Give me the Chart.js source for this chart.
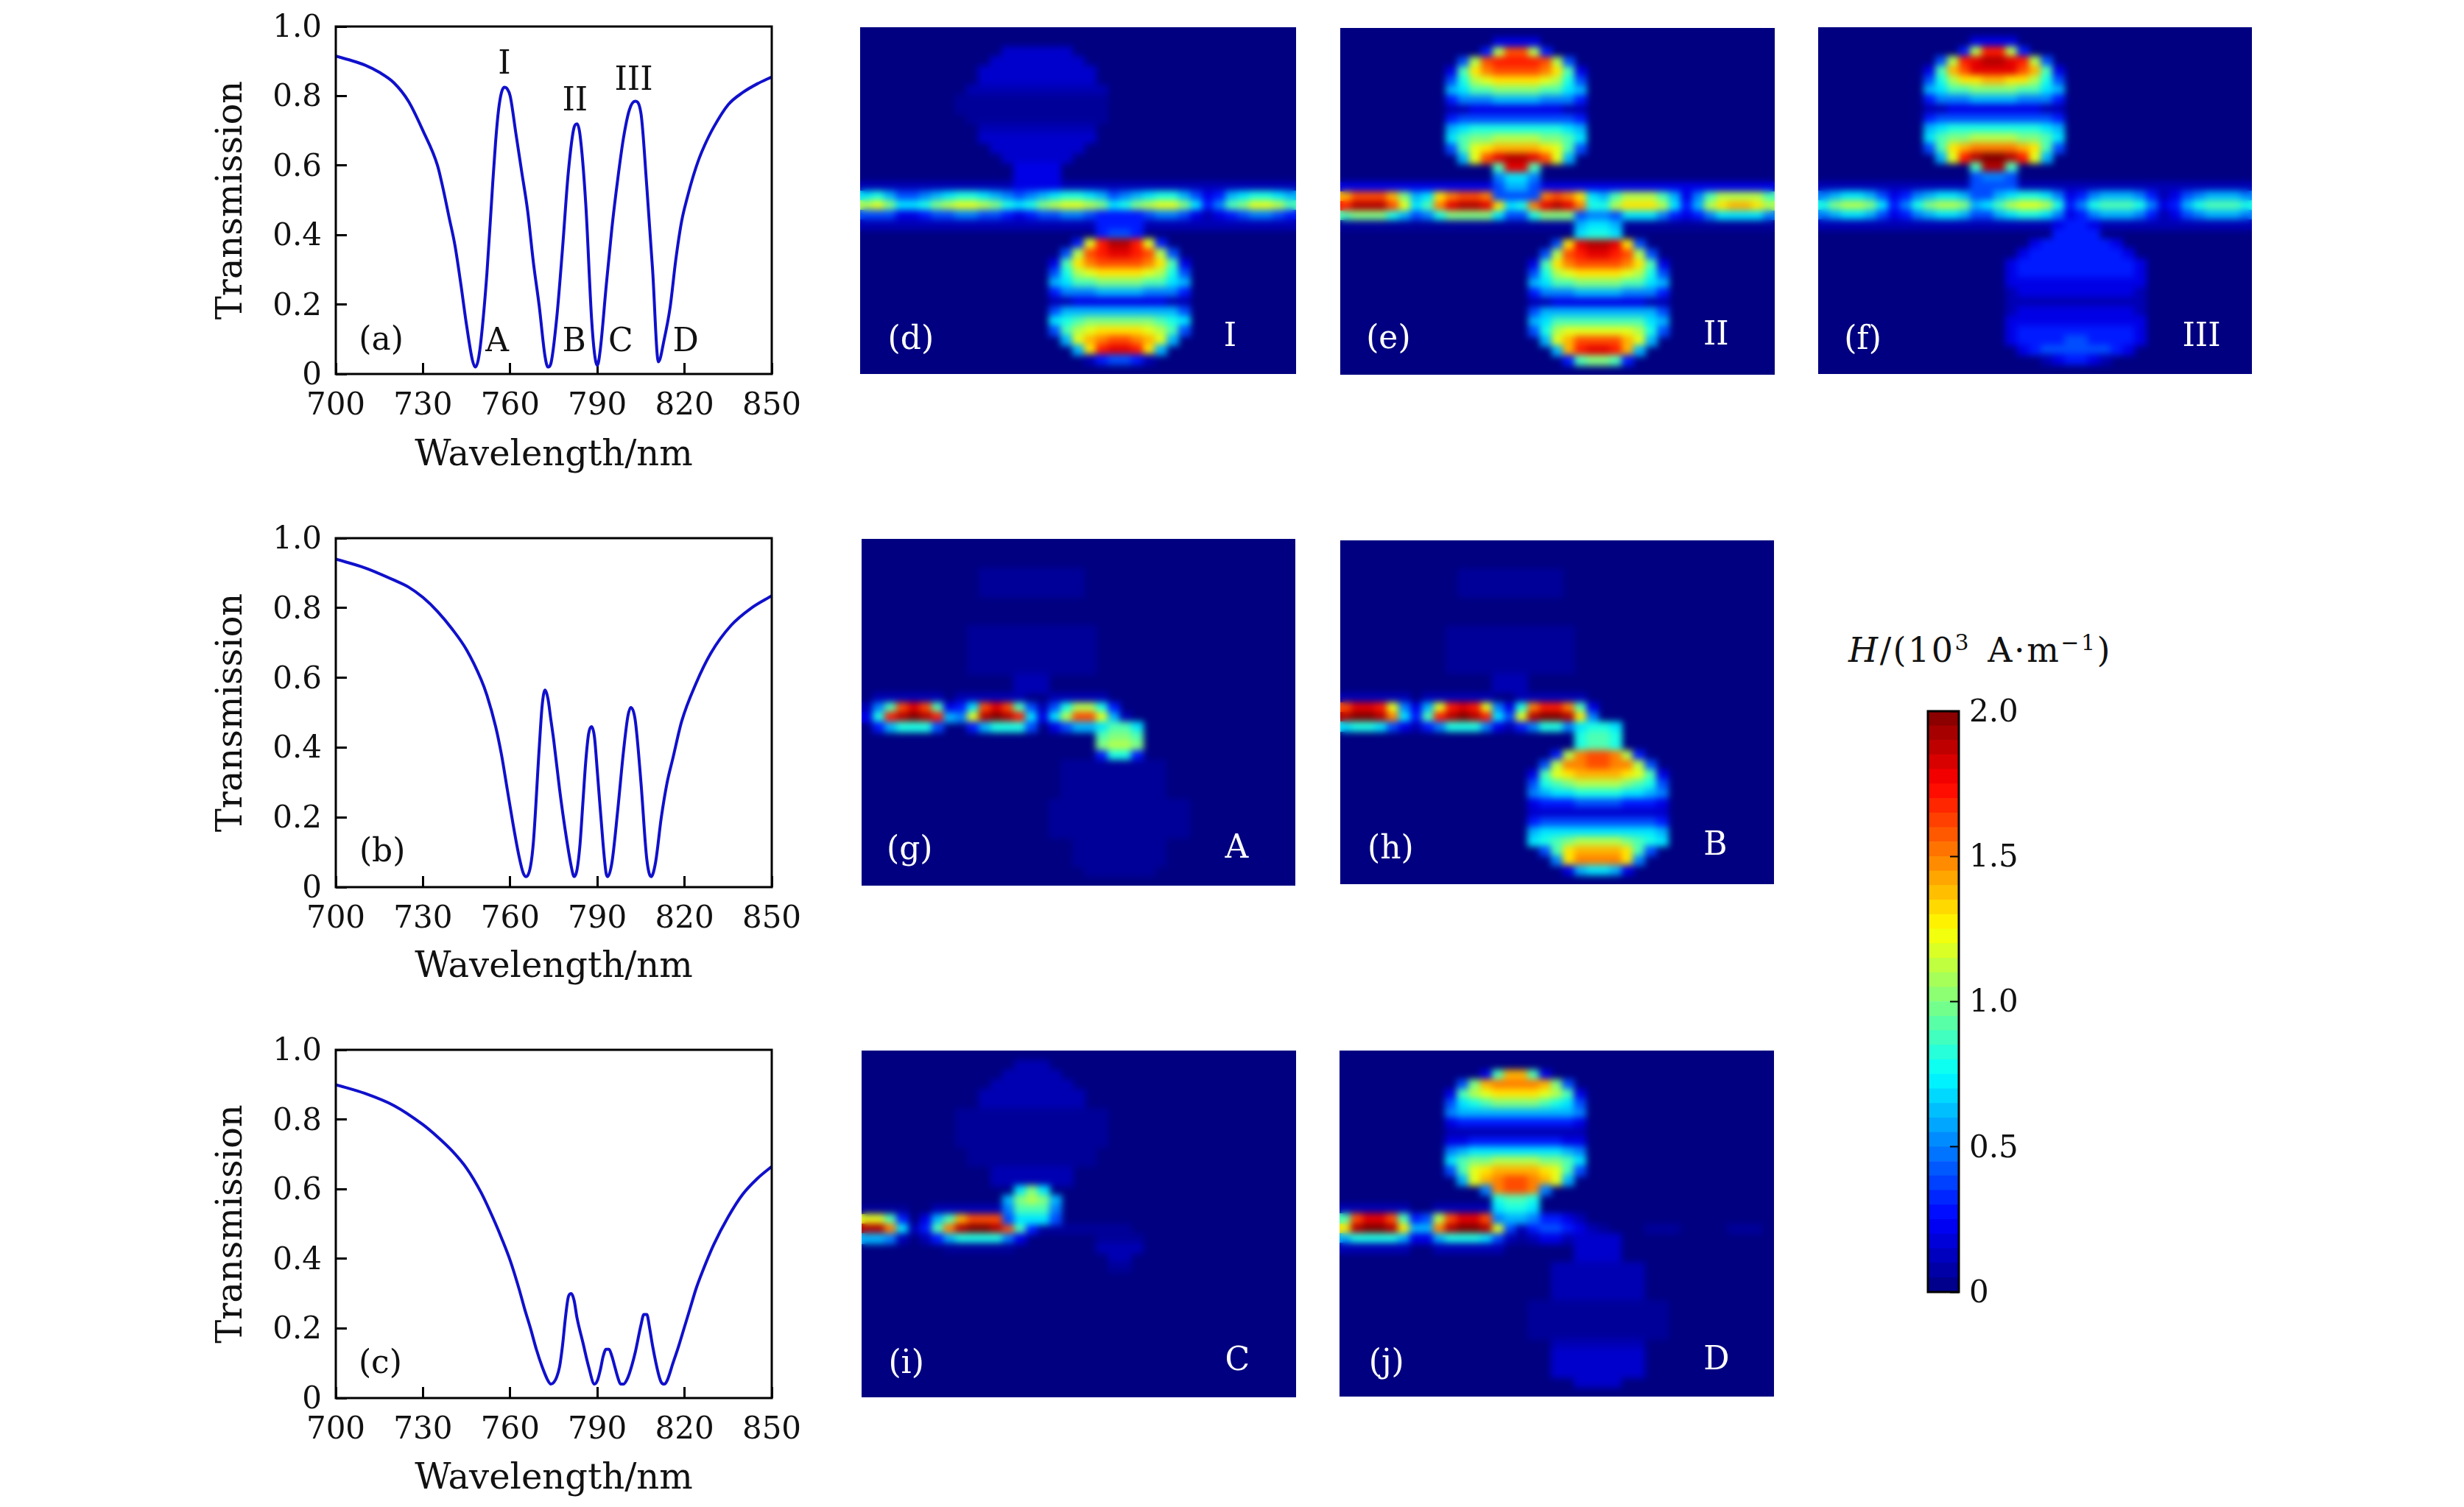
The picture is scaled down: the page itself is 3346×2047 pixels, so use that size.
<!DOCTYPE html>
<html>
<head>
<meta charset="utf-8">
<script src="https://cdn.jsdelivr.net/npm/chart.js"></script>
<style>
  html, body { margin: 0; background: #fff; }
  body { width: 3346px; height: 2047px; position: relative; overflow: hidden; }
  canvas { position: absolute; }
  #cbTitle { position: absolute; left: 2510px; top: 856px; font: 46px "DejaVu Serif", serif; letter-spacing: 2.5px; word-spacing: 6px; color: #111; white-space: nowrap; }
  #cbTitle sup { font-size: 30px; line-height: 0; }
</style>
</head>
<body>
<div id="cbTitle"><i>H</i>/(10<sup>3</sup> A·m<sup>−1</sup>)</div>
<script>
// Curvas de transmisión
const waveA = [700,705,710,715,720,725,730,735,737,739,741,743,745,747,748,749,750,752,754,755,756,757,758,759,760,762,764,766,768,770,772,773,774,776,778,780,782,783,784,786,788,789,790,791,793,795,797,799,801,803,805,807,809,811,813,815,817,819,821,823,825,827,830,835,840,845,850];
const transA = [.915,.903,.889,.868,.838,.785,.70,.60,.53,.45,.37,.26,.14,.04,.02,.04,.10,.29,.55,.67,.76,.81,.825,.82,.80,.69,.58,.47,.32,.195,.05,.02,.03,.16,.36,.58,.71,.72,.69,.49,.16,.06,.025,.07,.25,.42,.56,.68,.76,.785,.75,.54,.30,.035,.10,.19,.33,.44,.51,.57,.62,.66,.71,.775,.81,.835,.855];
const waveB = [700,710,720,725,730,735,740,745,750,752,755,757,759,761,763,764.5,765.5,767,768,770,771,772,773,774,775,777,779,781,782,783,784,785,786,787,788,789,790,792,793,793.5,795,797,799,800.5,801.5,803,805,807,808.5,810,812,814,816,819,824,829,836,843,850];
const transB = [.94,.915,.88,.86,.83,.79,.74,.68,.595,.55,.46,.38,.28,.18,.09,.04,.03,.06,.13,.40,.52,.565,.54,.48,.42,.28,.16,.06,.03,.05,.12,.24,.36,.44,.46,.43,.33,.12,.04,.03,.07,.22,.39,.49,.515,.48,.30,.08,.03,.07,.20,.30,.37,.475,.585,.67,.75,.80,.835];
const waveC = [700,710,720,730,735,740,745,750,755,757,760,763,765,767,769,771,773,774,775,776,777,778,779,780,781,782,783,785,787,789,790,791,792,793,794,795,796,797,798,799,800,801,803,805,806,807,808,809,811,812,813,814,816,818,820,822,824,826,830,835,840,845,850];
const transC = [.90,.875,.84,.785,.75,.71,.66,.59,.50,.46,.395,.315,.255,.20,.14,.09,.05,.04,.045,.06,.09,.15,.23,.29,.30,.28,.23,.16,.09,.04,.05,.08,.12,.14,.14,.12,.09,.06,.04,.04,.05,.07,.13,.21,.24,.24,.20,.15,.07,.045,.04,.05,.10,.15,.205,.26,.315,.36,.44,.52,.585,.63,.665];

const xTicks = [700,730,760,790,820,850];
const yTicks = [0,.2,.4,.6,.8,1];
const cbTicks = [0,.5,1,1.5,2];
const cbLevels = [0,.05,.1,.15,.2,.25,.3,.35,.4,.45,.5,.55,.6,.65,.7,.75,.8,.85,.9,.95,1,1.05,1.1,1.15,1.2,1.25,1.3,1.35,1.4,1.45,1.5,1.55,1.6,1.65,1.7,1.75,1.8,1.85,1.9,1.95];

// Rótulos: texto, x, y en unidades del eje
const labelsA = [['I',758,.889],['II',782.3,.783],['III',802.5,.843],['A',755.5,.089],['B',782,.089],['C',798,.089],['D',820.4,.089],['(a)',715.6,.094]];
const labelsB = [['(b)',716,.097]];
const labelsC = [['(c)',715.3,.097]];
const labelsD = [['(d)',4.3,32.5],['I',31.4,32.2]];
const labelsE = [['(e)',4.1,32.4],['II',32,32]];
const labelsF = [['(f)',3.8,32.5],['III',32.7,32.2]];
const labelsG = [['(g)',4.1,32.4],['A',32,32.2]];
const labelsH = [['(h)',4.3,32.4],['B',32,32]];
const labelsI = [['(i)',3.8,32.6],['C',32,32.3]];
const labelsJ = [['(j)',4,32.6],['D',32.1,32.3]];

// Campos |H|: "fila columna valores"; 0-9,a-k = 0 a 2.0 en pasos de 0.1, '.' = 0.05, ',' = 0.15
const fieldD = [
"2 12 ,,,,,,","3 11 ,,,,,,,,","4 10 ,,,,,,,,,,","5 10 ,,,,,,,,,,","6 9 111111111111",
"7 8 .............","8 8 .............","9 9 ............","10 10 1111111111","11 10 ,,,,,,,,,,",
"12 11 ,,,,,,,,","13 12 ,,,,,,","14 13 2222","15 13 2222",
"16 0 1111111111111111111111111111111111111","16 13 2222",
"17 0 7864456788765456788764567886423678876",
"18 0 bca778abccba878abccba78abcca7359accb9",
"19 0 4442234455443234455442344554212345543",
"20 0 1111111111111111111111111111111111111",
"19 20 3333","20 20 3333","21 20 3443",
"22 18 3chjjhc3","23 17 4bghiihgb4","24 16 29dfggggfd92","25 16 48bcddddcb84","26 16 6799aaaa9976",
"27 16 355566665553","28 16 112222222211","29 16 466666666664","30 16 789aaaaaa987","31 16 49bcddddcb94",
"32 17 6cefggfec6","33 18 6dhiihd6","34 19 134431"
];
const fieldE = [
"1 13 2222","2 12 3bggb3","3 10 4bghhhhgb4","4 9 29dfggggfd92","5 9 48bcddddcb84","6 9 6799aaaa9976",
"7 9 355566665553","8 9 112222222211","9 9 344444444443","10 9 678888888876","11 9 79aabbbbaa97",
"12 9 49cdeeeedc94","13 10 6cgijjigc6","14 13 9ii9","15 13 5775",
"16 0 2222222222222222222222222222222222222","16 13 4664",
"17 0 egggea67dfggfb67dfgfd769bbb96259bbbb9",
"17 13 4444",
"18 0 hjjjgc79fijjid78fijif88bdddb736bdeedb",
"19 0 9aaa86458aaaa7448aaa84457775323577775",
"20 0 .....................................",
"19 20 4554","20 20 6776","21 20 7887",
"22 18 4dijjid4","23 17 4bghiihgb4","24 16 29dfggggfd92","25 16 48bcddddcb84","26 16 6799aaaa9976",
"27 16 355566665553","28 16 112222222211","29 16 466666666664","30 16 679999999976","31 16 48bccccccb84",
"32 17 6ceggggec6","33 18 6ehiihe6","34 19 39aa93"
];
const fieldF = [
"1 13 2222","2 12 3bhhb3","3 10 4bhijjihb4","4 9 29egiiiige92","5 9 48bddeeddb84","6 9 6799aaaa9976",
"7 9 355566665553","8 9 112222222211","9 9 344444444443","10 9 678888888876","11 9 79aabbbbaa97",
"12 9 49deffffed94","13 10 6chjkkjhc6","14 13 9jj9","15 13 4554",
"16 0 1111111111111111111111111111111111111","16 13 4444",
"17 0 5677642356776446788752356665312456665",
"18 0 8abba7358abba679bccb83589998523689998",
"19 0 5677642356776446788752356665312456665",
"20 0 1111111111111111111111111111111111111",
"20 20 2332","21 20 3333","22 18 23333332","23 17 2333333332","24 16 233333333332","25 16 233333333332",
"26 16 222222222222","27 16 122222222221","28 16 111111111111","29 16 122222222221","30 16 222222222222",
"31 16 233333333332","32 16 233334433332","33 17 2344444432","34 19 123321"
];
const fieldG = [
"3 10 .........","4 10 .........","5 10 .........","9 9 ...........","10 9 ...........","11 9 ...........",
"12 9 ...........","13 9 ...........","14 13 111","15 13 111",
"16 1 111111","16 8 111111","16 16 11111",
"17 0 159gig92","17 8 37gig94","17 15 148bb83",
"18 0 28hjkjh6","18 8 5cjkjh7","18 15 27bggc61",
"19 1 368884","19 9 368884","19 16 24662",
"19 20 7997","20 20 9aa9","21 20 abba","22 20 3883",
"23 17 .........","24 17 .........","25 17 .........","26 17 .........",
"27 16 ............","28 16 ............","29 16 ............","30 16 ............",
"31 18 ........","32 18 ........","33 18 ........","34 19 ......"
];
const fieldH = [
"3 10 .........","4 10 .........","5 10 .........","9 9 ...........","10 9 ...........","11 9 ...........",
"12 9 ...........","13 9 ...........","14 13 111","15 13 111",
"16 0 111111","16 7 111111","16 15 111111",
"17 0 giihc52","17 7 6chihc5","17 14 28fhhf92",
"18 0 jkkjf73","18 7 9hjkjh7","18 14 4cjkkjd5",
"19 0 7887421","19 7 3588852","19 14 1358853",
"19 20 7887","20 20 8998","21 20 8998",
"22 18 3bfggfb3","23 17 4bffggffb4","24 16 29cdeeeedc92","25 16 489abbbba984","26 16 567788887765",
"27 16 233344443332","28 16 ,,,,,,,,,,,,","29 16 344444444443","30 16 677777777776","31 16 789abbbba987",
"32 17 49deeeed94","33 18 5dffffd5","34 19 267762"
];
const fieldI = [
"1 13 111","2 12 11111","3 11 1111111","4 10 111111111","5 10 111111111",
"6 8 .............","7 8 .............","8 8 .............","9 8 .............",
"10 9 ...........","11 9 ...........","12 11 1111111","13 11 1111111",
"16 0 ....","16 6 1111111",
"17 0 cc93","17 5 269eggggc5",
"18 0 jjf71","18 5 39fjkkjg93","18 15 ........",
"19 0 6651","19 5 136888852",
"20 7 ......",
"14 13 7a7","15 12 6aba6","16 12 59995","17 12 47774",
"19 20 ....","20 20 1111","21 21 11","22 21 .."
];
const fieldJ = [
"2 12 29ee92","3 10 4aeffffea4","4 9 29bcddddcb92","5 9 4789aaaa9874","6 9 566666666665",
"7 9 233333333332","8 9 111111111111","9 9 223333333322","10 9 567777777765","11 9 79aabbbbaa97",
"12 9 49cdeeeedc94","13 10 6cefggfec6","14 12 5fggf5","15 13 8998",
"16 0 111111","16 8 111111","16 13 7887",
"17 0 9giig93","17 7 4bgiig8","17 14 3123321",
"18 0 djkkjd6","18 7 6fjkkjc","18 14 41344321.",
"19 0 6888862","19 7 26888741","19 15 .1221",
"20 0 111111","20 8 111111",
"17 13 5665","18 26 ...","18 33 ...",
"19 20 ,,,,","20 20 ,,,,","21 20 ,,,,",
"22 18 11111111","23 18 11111111","24 18 11111111","25 18 11111111",
"26 16 ............","27 16 ............","28 16 ............","29 16 ............",
"30 18 11111111","31 18 ,,,,,,,,","32 18 ,,,,,,,,","33 18 ,,,,,,,,","34 20 ,,,,"
];

// Mapa de color jet sobre 0..2
function jet(v) {
  const t = v / 2;
  const c = d => Math.round(255 * Math.min(1, Math.max(0, 1.5 - Math.abs(4 * t - d))));
  return `rgb(${c(3)},${c(2)},${c(1)})`;
}

function levelOf(ch) {
  if (ch === '.') return 0.05;
  if (ch === ',') return 0.15;
  return parseInt(ch, 21) / 10;
}

function toCells(spans) {
  const cells = [];
  spans.forEach(s => {
    const [row, col, vals] = s.split(' ');
    [...vals].forEach((ch, i) => cells.push({ x: +col + i, y: +row, v: levelOf(ch) }));
  });
  return cells;
}

function makeCanvas(left, top, w, h) {
  const cv = document.createElement('canvas');
  cv.width = w; cv.height = h;
  cv.style.left = left + 'px';
  cv.style.top = top + 'px';
  cv.style.width = w + 'px';
  cv.style.height = h + 'px';
  document.body.appendChild(cv);
  return cv;
}

// Rótulos dentro del panel, ubicados con las escalas
function textPlugin(items, color) {
  return {
    id: 'panelText',
    afterDraw(chart) {
      const { ctx, scales } = chart;
      ctx.save();
      ctx.font = '44px "DejaVu Serif", serif';
      ctx.fillStyle = color;
      ctx.textAlign = 'center';
      ctx.textBaseline = 'middle';
      items.forEach(([t, x, y]) => ctx.fillText(t, scales.x.getPixelForValue(x), scales.y.getPixelForValue(y)));
      ctx.restore();
    }
  };
}

const framePlugin = {
  id: 'frame',
  afterDraw(chart) {
    const { ctx, chartArea: a } = chart;
    ctx.save();
    ctx.strokeStyle = '#000';
    ctx.lineWidth = 3;
    ctx.strokeRect(a.left, a.top, a.right - a.left, a.bottom - a.top);
    ctx.restore();
  }
};

// Celdas del mapa: se pintan con las escalas y se suavizan con un blur
const heatPlugin = {
  id: 'heat',
  beforeDatasetsDraw(chart) {
    const { ctx, scales: { x, y } } = chart;
    const off = document.createElement('canvas');
    off.width = chart.width; off.height = chart.height;
    const o = off.getContext('2d');
    o.fillStyle = jet(0);
    o.fillRect(0, 0, off.width, off.height);
    chart.data.datasets[0].data.forEach(c => {
      const x0 = x.getPixelForValue(c.x), x1 = x.getPixelForValue(c.x + 1);
      const y0 = y.getPixelForValue(c.y), y1 = y.getPixelForValue(c.y + 1);
      o.fillStyle = jet(c.v);
      o.fillRect(Math.floor(x0), Math.floor(y0), Math.ceil(x1 - x0) + 1, Math.ceil(y1 - y0) + 1);
    });
    ctx.save();
    ctx.drawImage(off, 0, 0);
    ctx.filter = 'blur(5px)';
    ctx.drawImage(off, 0, 0);
    ctx.restore();
  }
};

// Sin relleno extra por las etiquetas: el área del gráfico queda fija
function noPadding(s) {
  s.paddingLeft = s.paddingRight = s.paddingTop = s.paddingBottom = 0;
}

function linePanel(top, height, wave, trans, labels) {
  const L = 186, T = 30, W = 850, H = 642;
  const cv = makeCanvas(456 - L, top - T, W, H);
  const fnt = { family: '"DejaVu Serif", serif', size: 42 };
  const ttl = { family: '"DejaVu Serif", serif', size: 48 };
  new Chart(cv, {
    type: 'scatter',
    data: { datasets: [{ data: wave.map((w, i) => ({ x: w, y: trans[i] })), showLine: true, borderColor: '#1010cc', borderWidth: 4, pointRadius: 0, cubicInterpolationMode: 'monotone' }] },
    options: {
      responsive: false, animation: false, devicePixelRatio: 1,
      layout: { padding: { top: T, right: W - L - 592 } },
      plugins: { legend: { display: false }, tooltip: { enabled: false } },
      scales: {
        x: {
          type: 'linear', min: 700, max: 850,
          afterBuildTicks: s => { s.ticks = xTicks.map(v => ({ value: v })); },
          afterFit: s => { s.height = H - T - height; noPadding(s); },
          grid: { drawOnChartArea: false, tickLength: -15, tickColor: '#000', tickWidth: 3 },
          border: { display: false },
          ticks: { color: '#111', font: fnt, padding: 34, maxRotation: 0, autoSkip: false },
          title: { display: true, text: 'Wavelength/nm', color: '#111', font: ttl, padding: { top: 0, bottom: 0 } }
        },
        y: {
          min: 0, max: 1,
          afterBuildTicks: s => { s.ticks = yTicks.map(v => ({ value: v })); },
          afterFit: s => { s.width = L; noPadding(s); },
          grid: { drawOnChartArea: false, tickLength: -15, tickColor: '#000', tickWidth: 3 },
          border: { display: false },
          ticks: { color: '#111', font: fnt, padding: 34, labelOffset: 3, autoSkip: false, callback: v => v === 0 ? '0' : v.toFixed(1) },
          title: { display: true, text: 'Transmission', color: '#111', font: ttl, padding: { top: 17, bottom: 0 } }
        }
      }
    },
    plugins: [framePlugin, textPlugin(labels, '#111')]
  });
}

function heatPanel(left, top, w, h, field, labels) {
  const cv = makeCanvas(left, top, w, h);
  new Chart(cv, {
    type: 'scatter',
    data: { datasets: [{ data: toCells(field), pointRadius: 0 }] },
    options: {
      responsive: false, animation: false, devicePixelRatio: 1,
      plugins: { legend: { display: false }, tooltip: { enabled: false } },
      scales: {
        x: { type: 'linear', min: 0, max: 37, display: false },
        y: { type: 'linear', min: 0, max: 36, reverse: true, display: false }
      }
    },
    plugins: [heatPlugin, textPlugin(labels, '#fff')]
  });
}

function colorBar() {
  const W = 240, H = 840, pl = 18, pt = 26, pb = 25, barW = 42;
  const cv = makeCanvas(2618 - pl, 966 - pt, W, H);
  new Chart(cv, {
    type: 'bar',
    data: {
      labels: [''],
      datasets: cbLevels.map(l => ({ data: [0.05], backgroundColor: jet(l + 0.025), borderWidth: 0, barPercentage: 1, categoryPercentage: 1 }))
    },
    options: {
      responsive: false, animation: false, devicePixelRatio: 1,
      layout: { padding: { left: pl, top: pt, bottom: pb } },
      plugins: { legend: { display: false }, tooltip: { enabled: false } },
      scales: {
        x: { stacked: true, display: false },
        y: {
          stacked: true, min: 0, max: 2, position: 'right',
          afterBuildTicks: s => { s.ticks = cbTicks.map(v => ({ value: v })); },
          afterFit: s => { s.width = W - pl - barW; noPadding(s); },
          grid: { drawOnChartArea: false, z: 1, tickLength: -12, tickColor: '#000', tickWidth: 2 },
          border: { display: false },
          ticks: { color: '#111', font: { family: '"DejaVu Serif", serif', size: 42 }, padding: 26, labelOffset: 3, autoSkip: false, callback: v => v === 0 ? '0' : v.toFixed(1) }
        }
      }
    },
    plugins: [framePlugin]
  });
}

linePanel(36, 472, waveA, transA, labelsA);
linePanel(731, 474, waveB, transB, labelsB);
linePanel(1426, 473, waveC, transC, labelsC);

heatPanel(1168, 37, 592, 471, fieldD, labelsD);
heatPanel(1820, 38, 590, 471, fieldE, labelsE);
heatPanel(2469, 37, 589, 471, fieldF, labelsF);
heatPanel(1170, 732, 589, 471, fieldG, labelsG);
heatPanel(1820, 734, 589, 467, fieldH, labelsH);
heatPanel(1170, 1427, 590, 471, fieldI, labelsI);
heatPanel(1819, 1427, 590, 470, fieldJ, labelsJ);

colorBar();
</script>
</body>
</html>
